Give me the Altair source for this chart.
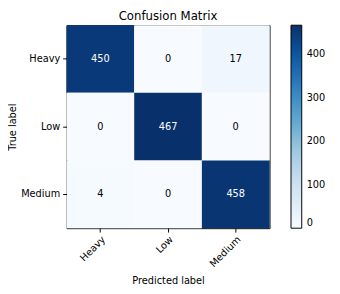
import altair as alt
import pandas as pd

true_labels = ["Heavy", "Heavy", "Heavy", "Low", "Low", "Low", "Medium", "Medium", "Medium"]
pred_labels = ["Heavy", "Low", "Medium", "Heavy", "Low", "Medium", "Heavy", "Low", "Medium"]
counts = [450, 0, 17, 0, 467, 0, 4, 0, 458]
classes = ["Heavy", "Low", "Medium"]
blues = ["#f7fbff", "#deebf7", "#c6dbef", "#9ecae1", "#6baed6", "#4292c6", "#2171b5", "#08519c", "#08306b"]

df = pd.DataFrame({"true": true_labels, "pred": pred_labels, "count": counts})
vmax = max(counts)
thresh = vmax / 2

base = alt.Chart(df).encode(
    x=alt.X("pred:N", sort=classes, title="Predicted label",
            axis=alt.Axis(labelAngle=315, labelAlign="right", labelBaseline="top",
                          labelPadding=2, tickColor="black", domain=False, titlePadding=7)),
    y=alt.Y("true:N", sort=classes, title="True label",
            axis=alt.Axis(labelAngle=0, tickColor="black", domain=False, labelPadding=3, titlePadding=3)),
)

rects = base.mark_rect().encode(
    color=alt.Color("count:Q",
                    scale=alt.Scale(domain=[0, vmax], range=blues, nice=False, zero=True),
                    legend=alt.Legend(title=None, values=[0, 100, 200, 300, 400],
                                      gradientLength=208, gradientThickness=11,
                                      gradientStrokeColor="black", gradientStrokeWidth=1,
                                      offset=22, labelOffset=5))
)

texts = base.mark_text(fontSize=10, font="DejaVu Sans").encode(
    text="count:Q",
    color=alt.condition(alt.datum["count"] > thresh, alt.value("white"), alt.value("black")),
)

chart = (rects + texts).properties(
    width=208, height=208,
    title=alt.TitleParams("Confusion Matrix", fontSize=12, fontWeight="normal", font="DejaVu Sans", offset=2),
    autosize=alt.AutoSizeParams(type="none"),
    padding={"left": 60, "top": 14, "right": 64, "bottom": 72},
).configure_view(stroke="black", strokeWidth=1).configure_axis(
    labelFont="DejaVu Sans", titleFont="DejaVu Sans", labelFontSize=10, titleFontSize=10,
    titleFontWeight="normal", labelColor="black", titleColor="black", grid=False, tickSize=4,
).configure_legend(labelFont="DejaVu Sans", labelFontSize=10, labelColor="black")

chart.save("out.html", embed_options={"renderer": "svg", "actions": False})
